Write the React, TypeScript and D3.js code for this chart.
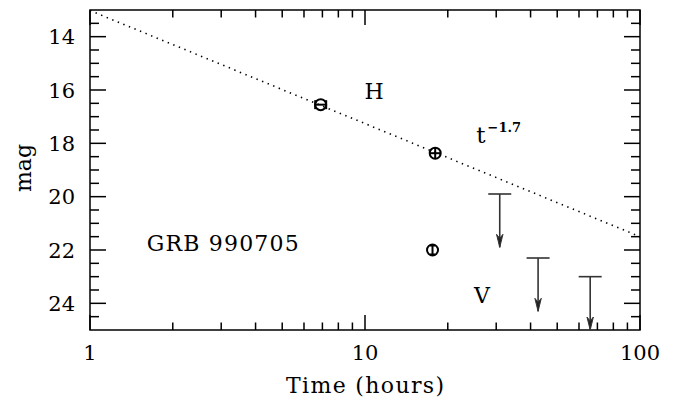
import React from "react";
import * as d3 from "d3";

// H band detections
const hTimes = [6.9, 18.0];
const hMags = [16.55, 18.37];
// V band detection
const vTimes = [17.6];
const vMags = [22.0];
// upper limits (V)
const limTimes = [30.9, 42.6, 65.9];
const limMags = [19.9, 22.3, 23.0];
// t^-1.7 decay line end points
const fitTimes = [1, 100];
const fitMags = [13.02, 21.5];

const yTickLabels = [14, 16, 18, 20, 22, 24];
const xTickLabels = [1, 10, 100];

const W = 676;
const H = 401;
const margin = { top: 10, right: 36, bottom: 71, left: 90 };
const FONT = "DejaVu Serif";

export default function App() {
  const iw = W - margin.left - margin.right;
  const ih = H - margin.top - margin.bottom;

  const x = d3.scaleLog().domain([1, 100]).range([0, iw]);
  const y = d3.scaleLinear().domain([13, 25]).range([0, ih]);

  // minor ticks
  const xMinor: number[] = [];
  [1, 10].forEach((dec) => {
    for (let k = 2; k <= 9; k++) xMinor.push(dec * k);
  });
  const yMinor = d3.range(13.5, 25, 0.5).filter((v) => !yTickLabels.includes(v));

  const fitLine = d3
    .line<number>()
    .x((_, i) => x(fitTimes[i]))
    .y((_, i) => y(fitMags[i]));

  const r = 5.5;
  const sw = 1.5;

  return (
    <svg width={W} height={H} style={{ position: "absolute", left: 0, top: 0, background: "#fff" }}>
      <defs>
        <clipPath id="plot">
          <rect x={0} y={0} width={iw} height={ih} />
        </clipPath>
      </defs>
      <g transform={`translate(${margin.left},${margin.top})`} fontFamily={FONT} fill="#000">
        {/* fit line */}
        <path
          d={fitLine(fitTimes) || ""}
          fill="none"
          stroke="#000"
          strokeWidth={1.6}
          strokeDasharray="1.4 4.6"
          clipPath="url(#plot)"
        />

        {/* ticks on x axis (bottom + top) */}
        {xMinor.map((t) => (
          <g key={"xm" + t}>
            <line x1={x(t)} x2={x(t)} y1={ih} y2={ih - 7.5} stroke="#000" strokeWidth={sw} />
            <line x1={x(t)} x2={x(t)} y1={0} y2={7.5} stroke="#000" strokeWidth={sw} />
          </g>
        ))}
        {xTickLabels.map((t) => (
          <g key={"xM" + t}>
            <line x1={x(t)} x2={x(t)} y1={ih} y2={ih - 15} stroke="#000" strokeWidth={sw} />
            <line x1={x(t)} x2={x(t)} y1={0} y2={15} stroke="#000" strokeWidth={sw} />
            <text x={x(t)} y={ih + 30} textAnchor="middle" fontSize={21}>
              {t}
            </text>
          </g>
        ))}

        {/* ticks on y axis (left + right) */}
        {yMinor.map((m) => (
          <g key={"ym" + m}>
            <line x1={0} x2={9} y1={y(m)} y2={y(m)} stroke="#000" strokeWidth={sw} />
            <line x1={iw} x2={iw - 9} y1={y(m)} y2={y(m)} stroke="#000" strokeWidth={sw} />
          </g>
        ))}
        {yTickLabels.map((m) => (
          <g key={"yM" + m}>
            <line x1={0} x2={16} y1={y(m)} y2={y(m)} stroke="#000" strokeWidth={sw} />
            <line x1={iw} x2={iw - 16} y1={y(m)} y2={y(m)} stroke="#000" strokeWidth={sw} />
            <text x={-15} y={y(m)} dy="0.36em" textAnchor="end" fontSize={21}>
              {m}
            </text>
          </g>
        ))}

        {/* frame */}
        <rect x={0} y={0} width={iw} height={ih} fill="none" stroke="#000" strokeWidth={sw} />

        {/* H band points */}
        {hTimes.map((t, i) => {
          const cx = x(t);
          const cy = y(hMags[i]);
          return (
            <g key={"h" + i} stroke="#000" strokeWidth={2} fill="none">
              <circle cx={cx} cy={cy} r={r} />
              <line x1={cx - r} x2={cx + r} y1={cy} y2={cy} />
              {i === 0 ? (
                <>
                  <line x1={cx - r} x2={cx - r} y1={cy - 4.5} y2={cy + 4.5} />
                  <line x1={cx + r} x2={cx + r} y1={cy - 4.5} y2={cy + 4.5} />
                </>
              ) : (
                <line x1={cx} x2={cx} y1={cy - r} y2={cy + r} />
              )}
            </g>
          );
        })}

        {/* V band point */}
        {vTimes.map((t, i) => {
          const cx = x(t);
          const cy = y(vMags[i]);
          return (
            <g key={"v" + i} stroke="#000" strokeWidth={2} fill="none">
              <circle cx={cx} cy={cy} r={r} />
              <line x1={cx} x2={cx} y1={cy - r} y2={cy + r} />
              <line x1={cx - 2.5} x2={cx + 2.5} y1={cy - r + 1} y2={cy - r + 1} />
              <line x1={cx - 2.5} x2={cx + 2.5} y1={cy + r - 1} y2={cy + r - 1} />
            </g>
          );
        })}

        {/* upper limits */}
        {limTimes.map((t, i) => {
          const cx = x(t);
          const top = y(limMags[i]);
          const tip = Math.min(y(limMags[i] + 2), ih);
          return (
            <g key={"l" + i} stroke="#333" strokeWidth={1.6}>
              <line x1={cx - 11.5} x2={cx + 11.5} y1={top} y2={top} />
              <line x1={cx} x2={cx} y1={top} y2={tip} />
              <path
                d={`M${cx},${tip} L${cx - 3.2},${tip - 13} L${cx},${tip - 9} L${cx + 3.2},${tip - 13} Z`}
                fill="#222"
                strokeWidth={1}
              />
            </g>
          );
        })}

        {/* annotations */}
        <text x={x(10.8)} y={88.7} textAnchor="middle" fontSize={22}>
          H
        </text>
        <text x={x(25.4)} y={133} fontSize={23}>
          t
          <tspan dx={2} dy={-11} fontSize={13} fontWeight="bold">
            −1.7
          </tspan>
        </text>
        <text x={56.7} y={241} fontSize={22} textLength={152} lengthAdjust="spacing">
          GRB 990705
        </text>
        <text x={x(26.6)} y={293} textAnchor="middle" fontSize={22}>
          V
        </text>
      </g>

      {/* axis titles */}
      <text
        x={margin.left + iw / 2}
        y={393}
        textAnchor="middle"
        fontSize={22}
        fontFamily={FONT}
        textLength={158}
        lengthAdjust="spacing"
      >
        Time (hours)
      </text>
      <text
        transform={`translate(31,168) rotate(-90)`}
        textAnchor="middle"
        fontSize={22}
        fontFamily={FONT}
      >
        mag
      </text>
    </svg>
  );
}
